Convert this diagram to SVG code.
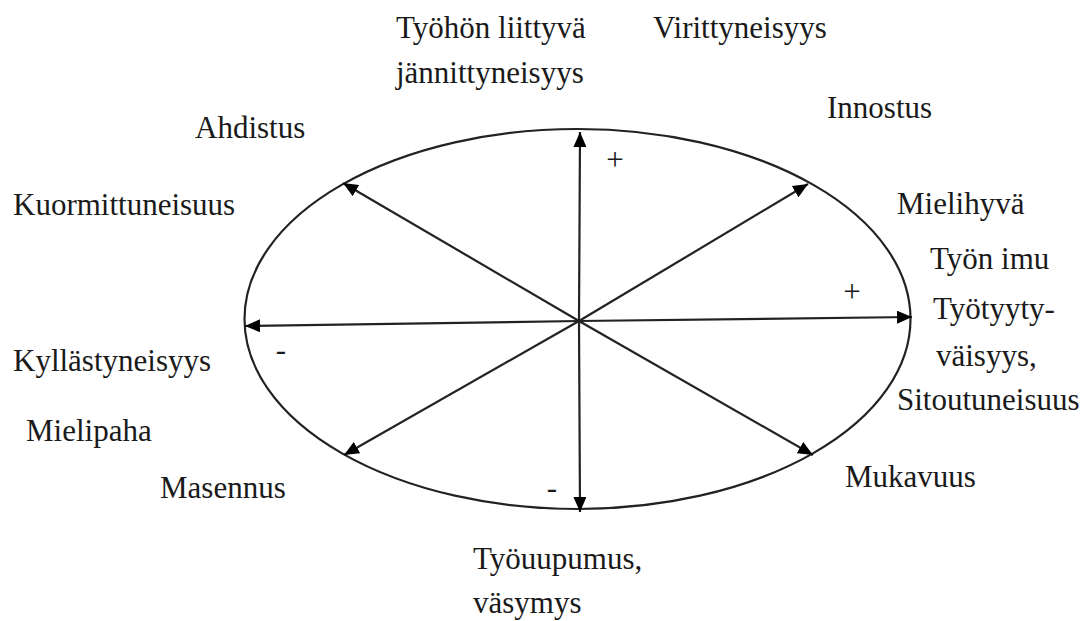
<svg xmlns="http://www.w3.org/2000/svg" width="1080" height="621" viewBox="0 0 1080 621">
<defs>
<marker id="ah" viewBox="0 0 15 13" refX="15" refY="6.5" markerWidth="15" markerHeight="13" markerUnits="userSpaceOnUse" orient="auto"><path d="M0,0 L15,6.5 L0,13 Z" fill="#000"/></marker>
<style>
text{font-family:"Liberation Serif","Times New Roman",serif;font-size:31px;fill:#1a1a1a}
.ax{stroke:#222;stroke-width:2.2;fill:none}
</style>
</defs>
<rect width="1080" height="621" fill="#fff"/>
<g id="ellipse"><ellipse cx="577.5" cy="319" rx="333" ry="190" fill="none" stroke="#222" stroke-width="2.2"/></g>
<g id="connectors">
<line class="ax" x1="579" y1="321" x2="580" y2="132" marker-end="url(#ah)"/>
<line class="ax" x1="579" y1="321" x2="580" y2="512" marker-end="url(#ah)"/>
<line class="ax" x1="579" y1="321" x2="912" y2="317" marker-end="url(#ah)"/>
<line class="ax" x1="579" y1="321" x2="245" y2="326" marker-end="url(#ah)"/>
<line class="ax" x1="579" y1="321" x2="808" y2="184" marker-end="url(#ah)"/>
<line class="ax" x1="579" y1="321" x2="343" y2="183" marker-end="url(#ah)"/>
<line class="ax" x1="579" y1="321" x2="813" y2="455" marker-end="url(#ah)"/>
<line class="ax" x1="579" y1="321" x2="344" y2="455" marker-end="url(#ah)"/>
</g>
<g id="signs">
<text x="615" y="170" text-anchor="middle" font-size="24">+</text>
<text x="852" y="302" text-anchor="middle" font-size="24">+</text>
<text x="281" y="360" text-anchor="middle" font-size="24">-</text>
<text x="552" y="498" text-anchor="middle" font-size="24">-</text>
</g>
<g id="n-tyohon"><text x="396" y="38">Työhön liittyvä</text><text x="396" y="83">jännittyneisyys</text></g>
<g id="n-virittyneisyys"><text x="653" y="38">Virittyneisyys</text></g>
<g id="n-innostus"><text x="827" y="118">Innostus</text></g>
<g id="n-ahdistus"><text x="195" y="138">Ahdistus</text></g>
<g id="n-kuormittuneisuus"><text x="13" y="215">Kuormittuneisuus</text></g>
<g id="n-mielihyva"><text x="897" y="214">Mielihyvä</text></g>
<g id="n-tyonimu"><text x="930" y="269">Työn imu</text><text x="933" y="319">Työtyyty-</text><text x="936" y="366">väisyys,</text><text x="897" y="410">Sitoutuneisuus</text></g>
<g id="n-kyllastyneisyys"><text x="13" y="371">Kyllästyneisyys</text></g>
<g id="n-mielipaha"><text x="26" y="441">Mielipaha</text></g>
<g id="n-masennus"><text x="160" y="498">Masennus</text></g>
<g id="n-mukavuus"><text x="845" y="487">Mukavuus</text></g>
<g id="n-tyouupumus"><text x="473" y="569">Työuupumus,</text><text x="473" y="613">väsymys</text></g>
</svg>
